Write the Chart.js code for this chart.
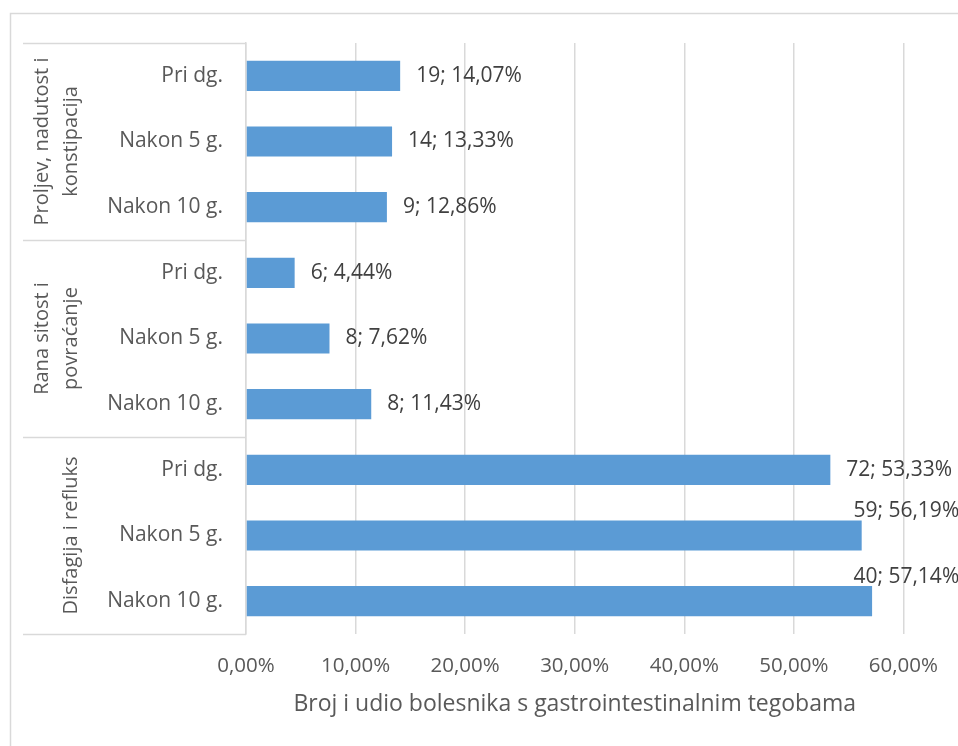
<!DOCTYPE html>
<html>
<head>
<meta charset="utf-8">
<script src="https://cdn.jsdelivr.net/npm/chart.js@4/dist/chart.umd.min.js"></script>
<style>
  html, body { margin: 0; padding: 0; background: #ffffff; }
  #wrap { width: 958px; height: 746px; }
</style>
</head>
<body>
<div id="wrap"><canvas id="c" width="958" height="746"></canvas></div>
<script>
// ---- data ----
const categories = ['Pri dg.', 'Nakon 5 g.', 'Nakon 10 g.',
                    'Pri dg.', 'Nakon 5 g.', 'Nakon 10 g.',
                    'Pri dg.', 'Nakon 5 g.', 'Nakon 10 g.'];
const groupLabels = [
  ['Proljev, nadutost i', 'konstipacija'],
  ['Rana sitost i', 'povraćanje'],
  ['Disfagija i refluks']
];
const groupSize = 3;
const percentages = [14.07, 13.33, 12.86, 4.44, 7.62, 11.43, 53.33, 56.19, 57.14];
const counts = [19, 14, 9, 6, 8, 8, 72, 59, 40];
const xMin = 0, xMax = 60, xStep = 10;
const axisTitle = 'Broj i udio bolesnika s gastrointestinalnim tegobama';

// ---- style ----
const FONT = '"Open Sans"';
const FS = 20;
const AXIS_COLOR = '#595959';
const LABEL_COLOR = '#404040';
const LINE_COLOR = '#d9d9d9';
const BAR_COLOR = '#5b9bd5';

const fmtPct = v => v.toFixed(2).replace('.', ',') + '%';

const framePlugin = {
  id: 'frame',
  beforeDraw(chart) {
    const ctx = chart.ctx;
    ctx.save();
    ctx.fillStyle = '#ffffff';
    ctx.fillRect(0, 0, chart.width, chart.height);
    ctx.strokeStyle = LINE_COLOR;
    ctx.lineWidth = 1.5;
    ctx.strokeRect(10.5, 13.5, chart.width + 50, chart.height + 50);
    ctx.restore();
  },
  afterDraw(chart) {
    const ctx = chart.ctx;
    const area = chart.chartArea;
    const n = categories.length;
    const rowH = (area.bottom - area.top) / n;
    ctx.save();
    ctx.strokeStyle = LINE_COLOR;
    ctx.lineWidth = 1.5;
    const groups = n / groupSize;
    for (let g = 0; g <= groups; g++) {
      const py = Math.round(area.top + g * groupSize * rowH) + 0.5;
      ctx.beginPath();
      ctx.moveTo(23, py);
      ctx.lineTo(area.left, py);
      ctx.stroke();
    }
    // group labels (rotated)
    ctx.fillStyle = AXIS_COLOR;
    ctx.font = FS + 'px ' + FONT;
    ctx.textAlign = 'center';
    ctx.textBaseline = 'middle';
    for (let g = 0; g < groups; g++) {
      const cy = area.top + (g * groupSize + groupSize / 2) * rowH;
      const lines = groupLabels[g];
      lines.forEach((ln, k) => {
        const cx = 71 - (lines.length - 1 - k) * 29;
        ctx.save();
        ctx.translate(cx, cy);
        ctx.rotate(-Math.PI / 2);
        ctx.fillText(ln, 0, 0);
        ctx.restore();
      });
    }
    ctx.restore();
  }
};

const dataLabelPlugin = {
  id: 'dataLabels',
  afterDatasetsDraw(chart) {
    const ctx = chart.ctx;
    const area = chart.chartArea;
    const meta = chart.getDatasetMeta(0);
    ctx.save();
    ctx.fillStyle = LABEL_COLOR;
    ctx.font = (FS + 1) + 'px ' + FONT;
    ctx.textAlign = 'left';
    meta.data.forEach((bar, i) => {
      const txt = counts[i] + '; ' + fmtPct(percentages[i]);
      let x = bar.x + 16;
      let yy = bar.y;
      if (x > area.right - 50) {
        x = area.right - 50;
        ctx.textBaseline = 'alphabetic';
        yy = bar.y - bar.height / 2 - 3;
      } else {
        ctx.textBaseline = 'middle';
      }
      ctx.fillText(txt, x, yy);
    });
    ctx.restore();
  }
};

new Chart(document.getElementById('c'), {
  type: 'bar',
  data: {
    labels: categories,
    datasets: [{
      data: percentages,
      backgroundColor: BAR_COLOR,
      borderWidth: 0,
      categoryPercentage: 1.0,
      barPercentage: 0.46
    }]
  },
  options: {
    indexAxis: 'y',
    responsive: false,
    animation: false,
    devicePixelRatio: 1,
    layout: { padding: { top: 43, right: 53, left: 0, bottom: 0 } },
    plugins: { legend: { display: false }, tooltip: { enabled: false } },
    scales: {
      x: {
        type: 'linear',
        min: xMin, max: xMax,
        ticks: {
          stepSize: xStep,
          callback: v => fmtPct(v),
          color: AXIS_COLOR,
          font: { family: FONT, size: FS + 0.5 },
          padding: 20,
          maxRotation: 0
        },
        grid: { color: LINE_COLOR, lineWidth: 1.5, drawTicks: false },
        border: { display: false },
        title: {
          display: true,
          text: axisTitle,
          color: AXIS_COLOR,
          font: { family: FONT, size: FS + 3 },
          padding: { top: 4, bottom: 28 }
        },
        afterFit(scale) { scale.height = 112; }
      },
      y: {
        type: 'category',
        ticks: {
          color: AXIS_COLOR,
          font: { family: FONT, size: FS + 1 },
          padding: 23
        },
        grid: { display: false, drawTicks: false },
        border: { display: true, color: LINE_COLOR, width: 1.5 },
        afterFit(scale) { scale.width = 246; }
      }
    }
  },
  plugins: [framePlugin, dataLabelPlugin]
});
</script>
</body>
</html>
